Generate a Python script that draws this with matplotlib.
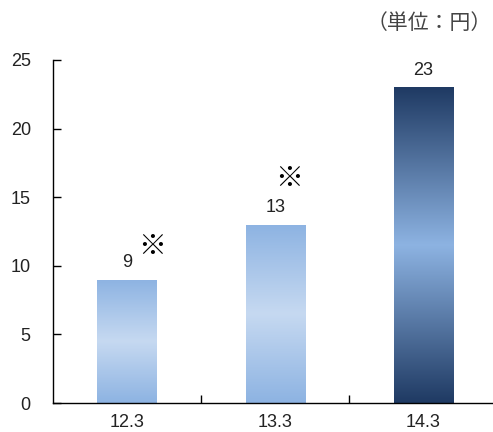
import numpy as np
import matplotlib
matplotlib.use("Agg")
import matplotlib.pyplot as plt
from matplotlib.colors import LinearSegmentedColormap

categories = ["12.3", "13.3", "14.3"]
values = [9, 13, 23]
value_labels = ["9", "13", "23"]
note_marks = ["※", "※", ""]
y_ticks = [0, 5, 10, 15, 20, 25]
unit_label = "（単位：円）"

plt.rcParams['font.family'] = ['Liberation Sans', 'DejaVu Sans']

fig = plt.figure(figsize=(4.93, 4.32), dpi=100)
ax = fig.add_axes([53/493, 29/432, 440/493, 343/432])

light = LinearSegmentedColormap.from_list("light", ["#8DB3E2", "#C6D9F1", "#8DB3E2"])
dark = LinearSegmentedColormap.from_list("dark", ["#1F3A63", "#8DB3E2", "#1F3A63"])
cmaps = [light, light, dark]

x = np.arange(len(categories))
bars = ax.bar(x, values, width=0.4, color="none", edgecolor="none", zorder=2)
grad = np.linspace(0, 1, 256).reshape(-1, 1)
for b, cm in zip(bars, cmaps):
    x0, w, h = b.get_x(), b.get_width(), b.get_height()
    im = ax.imshow(grad, cmap=cm, aspect="auto", extent=[x0, x0 + w, 0, h],
                   origin="lower", zorder=2, interpolation="bilinear")
    im.set_clip_path(b)

ax.set_xlim(-0.5, len(categories) - 0.5 - 0.03)
ax.set_ylim(0, 25)
ax.set_yticks(y_ticks)
ax.set_xticks(x)
ax.set_xticklabels(categories, fontsize=13, color="#222222")
ax.set_xticks(np.arange(0.5, len(categories) - 0.5, 1), minor=True)
ax.tick_params(axis="x", which="major", length=0, pad=8)
ax.tick_params(axis="x", which="minor", direction="in", length=6, width=1, color="black")
ax.tick_params(axis="y", direction="in", length=6, width=1, pad=16, labelsize=13,
               labelcolor="#222222")
for lab in ax.get_yticklabels():
    lab.set_horizontalalignment("right")
ax.spines["top"].set_visible(False)
ax.spines["right"].set_visible(False)
ax.spines["left"].set_linewidth(1)
ax.spines["bottom"].set_linewidth(1)

note_offsets = [(25, 33), (14, 46), (0, 0)]
for xi, v, lab, mark, off in zip(x, values, value_labels, note_marks, note_offsets):
    ax.annotate(lab, (xi, v), xytext=(0, 17), textcoords="offset pixels",
                ha="center", va="center", fontsize=13, color="#222222")
    if mark:
        ax.annotate(mark, (xi, v), xytext=off, textcoords="offset pixels",
                    ha="center", va="center", fontsize=20, color="black",
                    family=["Noto Sans CJK JP", "DejaVu Sans"])

fig.text(492/493, 1 - 23/432, unit_label, ha="right", va="center", fontsize=15,
         color="#444444", family=["Noto Sans CJK JP", "DejaVu Sans"])

fig.savefig("out.png", dpi=100)
